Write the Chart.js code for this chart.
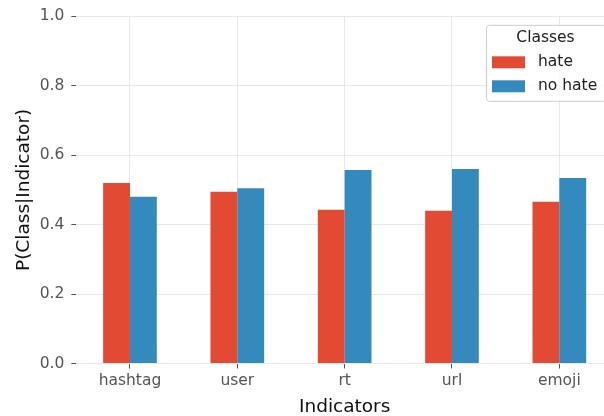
<!DOCTYPE html>
<html>
<head>
<meta charset="utf-8">
<script src="https://cdn.jsdelivr.net/npm/chart.js@4/dist/chart.umd.min.js"></script>
<style>
	html, body { margin: 0; padding: 0; overflow: hidden; background: #fff; }
	#wrap { width: 604px; height: 416px; overflow: hidden; }
</style>
</head>
<body>
<div id="wrap">
	<canvas id="myChart" width="613" height="416"></canvas>
</div>
<script>
// ---------------------- 데이터 ----------------------
var indicators = ['hashtag', 'user', 'rt', 'url', 'emoji'];
var hate_data = [0.520, 0.495, 0.443, 0.440, 0.466];
var nohate_data = [0.480, 0.505, 0.557, 0.560, 0.534];
var y_ticks = [0.0, 0.2, 0.4, 0.6, 0.8, 1.0];

var FONT = "'DejaVu Sans', sans-serif";

// 범례 직접 그리기 (matplotlib 스타일 박스)
const boxLegend = {
	id: 'boxLegend',
	afterDraw(chart) {
		const c = chart.ctx;
		const area = chart.chartArea;
		const sets = chart.data.datasets;
		const right = area.right - 8;
		const left = right - 119;
		const top = area.top + 8.5;
		const h = 76;

		c.save();
		// 박스
		c.beginPath();
		c.roundRect(left + 0.5, top + 0.5, right - left, h, 3);
		c.fillStyle = 'rgba(255,255,255,0.8)';
		c.fill();
		c.strokeStyle = '#cccccc';
		c.lineWidth = 1;
		c.stroke();

		// 제목
		c.fillStyle = '#222';
		c.font = '15.5px ' + FONT;
		c.textAlign = 'center';
		c.textBaseline = 'middle';
		c.fillText('Classes', (left + right) / 2, top + 13.5);

		// 항목
		c.textAlign = 'left';
		for (let i = 0; i < sets.length; i++) {
			const yy = top + 37.5 + i * 24;
			c.fillStyle = sets[i].backgroundColor;
			c.fillRect(left + 6, yy - 6, 33, 12);
			c.fillStyle = '#222';
			c.fillText(sets[i].label, left + 52, yy);
		}
		c.restore();
	}
};

const ctx = document.getElementById('myChart').getContext('2d');
const myChart = new Chart(ctx, {
	type: 'bar',
	data: {
		labels: indicators,
		datasets: [{
			label: 'hate',
			data: hate_data,
			backgroundColor: '#E24A33',
			borderWidth: 0
		}, {
			label: 'no hate',
			data: nohate_data,
			backgroundColor: '#348ABD',
			borderWidth: 0
		}]
	},
	options: {
		responsive: false,
		animation: false,
		layout: {
			padding: { top: 15.5, left: 0, right: 0, bottom: 0 }
		},
		datasets: {
			bar: { categoryPercentage: 0.5, barPercentage: 1.0 }
		},
		plugins: {
			legend: { display: false },
			tooltip: { enabled: false }
		},
		scales: {
			x: {
				grid: {
					offset: false,
					color: '#e8e8e8',
					tickColor: '#555',
					tickLength: 5
				},
				border: { display: false },
				ticks: {
					color: '#555',
					padding: 3,
					font: { family: FONT, size: 15.5 }
				},
				title: {
					display: true,
					text: 'Indicators',
					color: '#111',
					padding: 0,
					font: { family: FONT, size: 18.5, lineHeight: 1 }
				},
				afterFit: function(scale) { scale.height = 52.5; }
			},
			y: {
				min: 0,
				max: 1,
				afterBuildTicks: function(scale) {
					scale.ticks = y_ticks.map(function(v) { return { value: v }; });
				},
				grid: {
					color: '#e8e8e8',
					tickColor: '#555',
					tickLength: 5
				},
				border: { display: false },
				ticks: {
					color: '#555',
					padding: 7,
					font: { family: FONT, size: 15.5 },
					callback: function(v) { return Number(v).toFixed(1); }
				},
				title: {
					display: true,
					text: 'P(Class|Indicator)',
					color: '#111',
					padding: { top: 15 },
					font: { family: FONT, size: 18.5, lineHeight: 1 }
				},
				afterFit: function(scale) { scale.width = 76.3; }
			}
		}
	},
	plugins: [boxLegend]
});
</script>
</body>
</html>
